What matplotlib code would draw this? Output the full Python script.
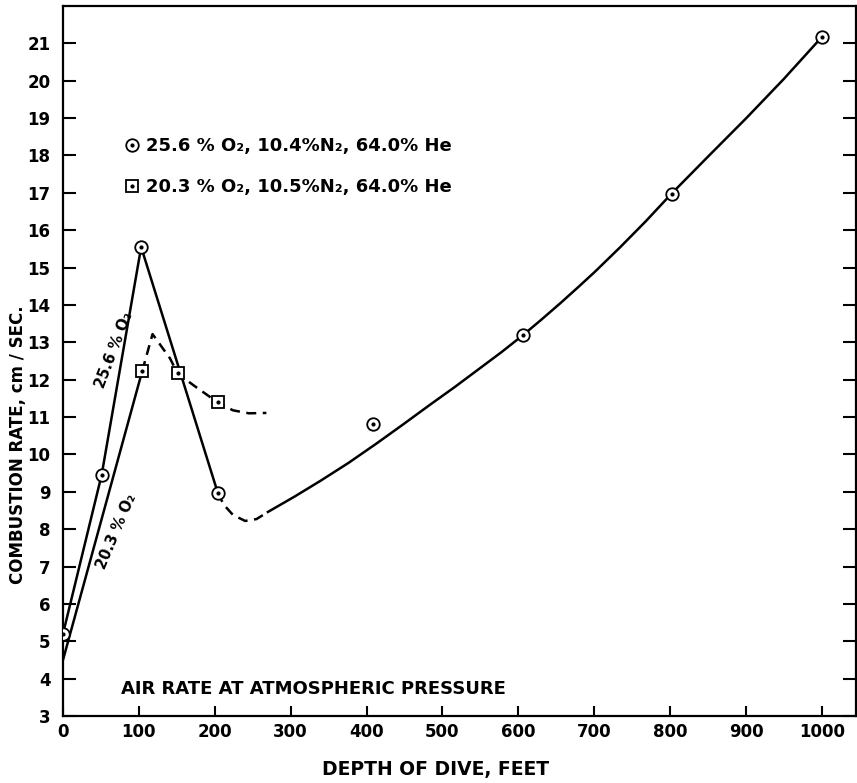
import matplotlib
matplotlib.use('Agg')
import matplotlib.pyplot as plt
from matplotlib.lines import Line2D

# Values
# Measured points, 25.6 % O2 mixture (circles)
depth_hi = [0, 51, 103, 204, 408, 606, 802, 1000]
rate_hi = [5.2, 9.46, 15.55, 8.97, 10.81, 13.19, 16.98, 21.17]
# Measured points, 20.3 % O2 mixture (squares)
depth_lo = [104.5, 151, 204]
rate_lo = [12.24, 12.17, 11.39]

# Faired curves as drawn on the chart
hi_solid1_x = [0, 51, 103, 204]
hi_solid1_y = [5.2, 9.46, 15.55, 8.97]
hi_dash_x = [204, 212, 224, 240, 255, 270]
hi_dash_y = [8.97, 8.65, 8.38, 8.22, 8.27, 8.46]
hi_solid2_x = [270, 305, 339, 376, 413, 448, 483, 516, 549, 578, 606,
               630, 655, 678, 700, 734, 768, 802, 850, 900, 950, 1000]
hi_solid2_y = [8.46, 8.87, 9.29, 9.77, 10.29, 10.8, 11.32, 11.8, 12.3, 12.74, 13.19,
               13.6, 14.04, 14.46, 14.87, 15.54, 16.24, 16.98, 17.97, 18.99, 20.05, 21.17]

lo_solid_x = [0, 104.5]
lo_solid_y = [4.5, 12.24]
lo_dash_x = [104.5, 118, 141, 151, 172, 204, 224, 245, 268]
lo_dash_y = [12.24, 13.22, 12.57, 12.17, 11.85, 11.39, 11.18, 11.1, 11.11]

x_ticks = list(range(0, 1001, 100))
y_ticks = list(range(3, 22))

legend_labels = ['25.6 % O\u2082, 10.4%N\u2082, 64.0% He',
                 '20.3 % O\u2082, 10.5%N\u2082, 64.0% He']

LW = 1.8
DASH = (0, (4, 2.6))
plt.rcParams['font.family'] = ['DejaVu Sans']
plt.rcParams['font.weight'] = 'bold'


def mark(ax, x, y, shape):
    ax.plot(x, y, ls='none', marker=shape, ms=9, mfc='white', mec='black',
            mew=1.3, zorder=4)
    ax.plot(x, y, ls='none', marker='o', ms=2.0, color='black', zorder=5)


def main():
    fig = plt.figure(figsize=(8.57, 7.83), dpi=100)
    ax = fig.add_axes([63 / 857, 1 - 716 / 783, (856 - 63) / 857, (716 - 6) / 783])

    ax.plot(hi_solid1_x, hi_solid1_y, color='black', lw=LW, zorder=3)
    ax.plot(hi_dash_x, hi_dash_y, color='black', lw=LW, ls=DASH, zorder=3)
    ax.plot(hi_solid2_x, hi_solid2_y, color='black', lw=LW, zorder=3)
    ax.plot(lo_solid_x, lo_solid_y, color='black', lw=LW, zorder=3)
    ax.plot(lo_dash_x, lo_dash_y, color='black', lw=LW, ls=DASH, zorder=3)

    mark(ax, depth_hi, rate_hi, 'o')
    mark(ax, depth_lo, rate_lo, 's')

    ax.set_xlim(0, 1045)
    ax.set_ylim(3, 22)
    ax.set_xticks(x_ticks)
    ax.set_yticks(y_ticks)
    ax.tick_params(axis='y', direction='in', length=9.5, width=1.5, pad=9,
                   labelsize=12, right=True)
    ax.tick_params(axis='x', direction='in', length=7, width=1.5, pad=5,
                   labelsize=12)
    for s in ax.spines.values():
        s.set_linewidth(1.6)

    ax.text(67, 12.79, '25.6 % O\u2082', rotation=69, fontsize=10.5,
            ha='center', va='center')
    ax.text(71, 7.95, '20.3 % O\u2082', rotation=67, fontsize=10.5,
            ha='center', va='center')
    ax.text(77, 3.72, 'AIR RATE AT ATMOSPHERIC PRESSURE', fontsize=13,
            ha='left', va='center')

    h_circ = (Line2D([], [], ls='none', marker='o', ms=9, mfc='white',
                     mec='black', mew=1.3),
              Line2D([], [], ls='none', marker='o', ms=2.0, color='black'))
    h_sq = (Line2D([], [], ls='none', marker='s', ms=9, mfc='white',
                   mec='black', mew=1.3),
            Line2D([], [], ls='none', marker='o', ms=2.0, color='black'))
    ax.legend([h_circ, h_sq], legend_labels, loc='upper left',
              bbox_to_anchor=(0.078, 0.815), frameon=False, fontsize=13,
              handlelength=0.8, handletextpad=0.35, labelspacing=1.25,
              borderpad=0, borderaxespad=0)

    fig.text(18 / 857, 1 - 445 / 783, 'COMBUSTION RATE, cm / SEC.',
             rotation=90, fontsize=12, ha='center', va='center')
    fig.text(436 / 857, 1 - 770 / 783, 'DEPTH OF DIVE, FEET', fontsize=13.5,
             ha='center', va='center')

    fig.savefig('out.png', dpi=100)


if __name__ == '__main__':
    main()
